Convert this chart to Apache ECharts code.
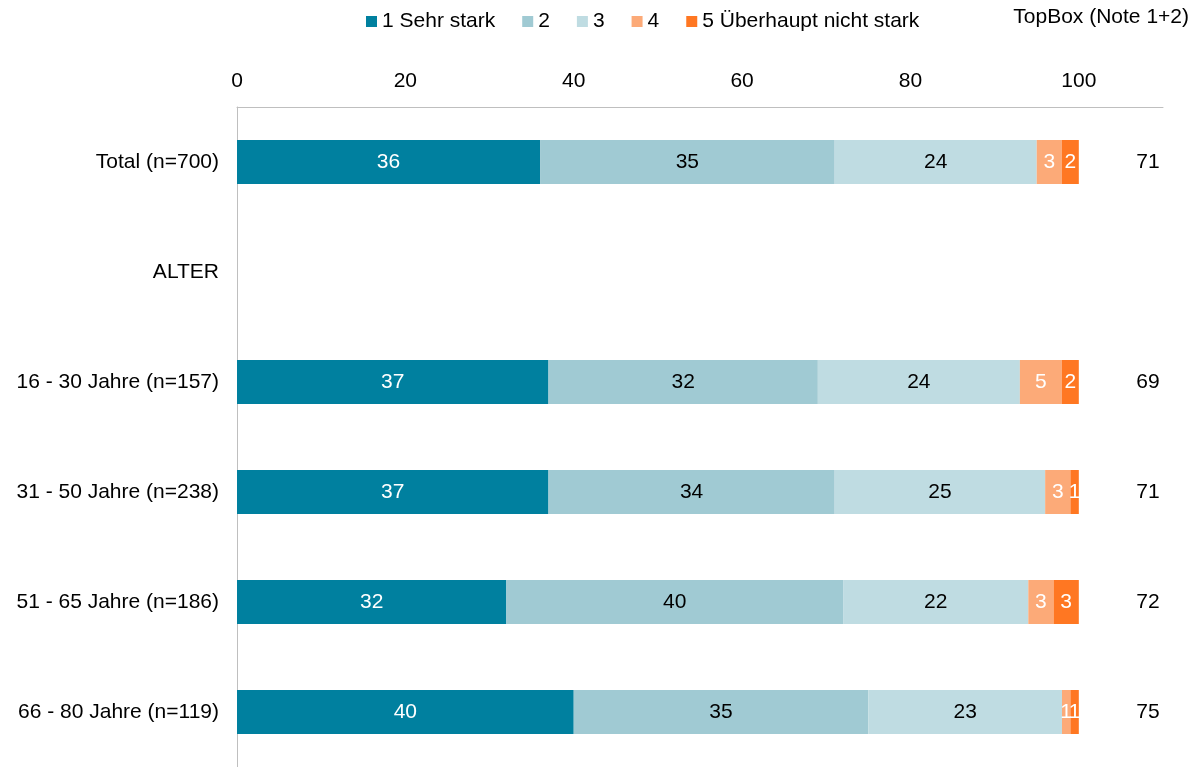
<!DOCTYPE html>
<html>
<head>
<meta charset="utf-8">
<script src="https://cdn.jsdelivr.net/npm/echarts@6/dist/echarts.min.js"></script>
<style>
  html, body { margin: 0; padding: 0; background: #ffffff; }
  #chart { width: 1191px; height: 767px; }
</style>
</head>
<body>
<div id="chart"></div>
<script>
// Row labels (top to bottom); "ALTER" is a section header row without bars
const categories = ['Total (n=700)', 'ALTER', '16 - 30 Jahre (n=157)', '31 - 50 Jahre (n=238)', '51 - 65 Jahre (n=186)', '66 - 80 Jahre (n=119)'];

// Share per answer (percent)
const note1 = [36, null, 37, 37, 32, 40];
const note2 = [35, null, 32, 34, 40, 35];
const note3 = [24, null, 24, 25, 22, 23];
const note4 = [3, null, 5, 3, 3, 1];
const note5 = [2, null, 2, 1, 3, 1];

// TopBox (Note 1+2) per row
const topBox = ['71', '', '69', '71', '72', '75'];

const seriesNames = ['1 Sehr stark', '2', '3', '4', '5 Überhaupt nicht stark'];
const seriesColors = ['#00809F', '#A0CAD3', '#BFDCE2', '#FCAA78', '#FF7722'];
const labelColors = ['#ffffff', '#000000', '#000000', '#ffffff', '#ffffff'];
const seriesData = [note1, note2, note3, note4, note5];

const xTicks = { min: 0, max: 110, interval: 20 };

const FONT = 'Liberation Sans, Arial, sans-serif';
const FS = 21;

const chart = echarts.init(document.getElementById('chart'), null, { renderer: 'canvas' });

const series = seriesData.map((d, i) => ({
  name: seriesNames[i],
  type: 'bar',
  stack: 'total',
  barWidth: 44,
  data: d,
  itemStyle: { color: seriesColors[i] },
  label: {
    show: true,
    position: 'inside',
    color: labelColors[i],
    fontFamily: FONT,
    fontSize: FS,
    formatter: p => (p.value == null ? '' : String(p.value))
  },
  emphasis: { disabled: true }
}));

chart.setOption({
  backgroundColor: '#ffffff',
  animation: false,
  textStyle: { fontFamily: FONT },
  legend: {
    data: seriesNames,
    left: 361,
    top: 6,
    icon: 'rect',
    itemWidth: 11,
    itemHeight: 11,
    itemGap: 27,
    textStyle: { color: '#000000', fontFamily: FONT, fontSize: FS }
  },
  graphic: [{
    type: 'text',
    right: 2,
    top: 7,
    style: { text: 'TopBox (Note 1+2)', fill: '#000000', font: FS + 'px ' + FONT }
  }],
  grid: { left: 237, right: 28, top: 107, height: 660 },
  xAxis: {
    type: 'value',
    position: 'top',
    min: xTicks.min,
    max: xTicks.max,
    interval: xTicks.interval,
    axisLine: { show: true, lineStyle: { color: '#BFBFBF', width: 1 } },
    axisTick: { show: false },
    splitLine: { show: false },
    axisLabel: {
      color: '#000000',
      fontFamily: FONT,
      fontSize: FS,
      margin: 15,
      showMaxLabel: false,
      formatter: v => (v > 100 ? '' : String(v))
    }
  },
  yAxis: [{
    type: 'category',
    inverse: true,
    data: categories,
    axisLine: { show: true, lineStyle: { color: '#BFBFBF', width: 1 } },
    axisTick: { show: false },
    axisLabel: { color: '#000000', fontFamily: FONT, fontSize: FS, margin: 18 }
  }, {
    type: 'category',
    inverse: true,
    position: 'right',
    data: topBox,
    axisLine: { show: false },
    axisTick: { show: false },
    axisLabel: { color: '#000000', fontFamily: FONT, fontSize: FS, margin: -15, align: 'center' }
  }],
  series: series
});
</script>
</body>
</html>
